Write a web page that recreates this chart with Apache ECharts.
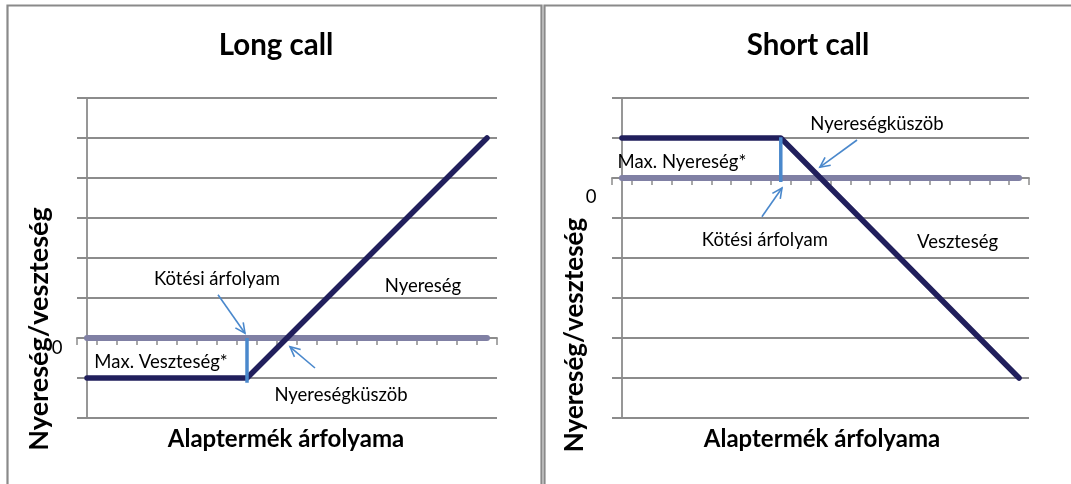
<!DOCTYPE html>
<html>
<head>
<meta charset="utf-8">
<title>Long call / Short call</title>
<script src="https://cdn.jsdelivr.net/npm/echarts@6/dist/echarts.min.js"></script>
<style>
  html, body { margin: 0; padding: 0; background: #fff; }
  #chart { width: 1071px; height: 484px; }
</style>
</head>
<body>
<div id="chart"></div>
<script>
// price steps of the underlying (no labels on the axis)
const priceSteps = ['1', '2', '3', '4', '5', '6', '7', '8', '9', '10', '11',
  '12', '13', '14', '15', '16', '17', '18', '19', '20', '21'];
const longCall = [-1, -1, -1, -1, -1, -1, -1, -1, -1, -0.5, 0, 0.5, 1, 1.5, 2, 2.5, 3, 3.5, 4, 4.5, 5];
const shortCall = [1, 1, 1, 1, 1, 1, 1, 1, 1, 0.5, 0, -0.5, -1, -1.5, -2, -2.5, -3, -3.5, -4, -4.5, -5];
const zeroLine = [0, 0, 0, 0, 0, 0, 0, 0, 0, 0, 0, 0, 0, 0, 0, 0, 0, 0, 0, 0, 0];
const strikeIndex = 8;
const longStrike = [0, -1.12];
const shortStrike = [1.02, -0.1];
const longRange = [-2, 6];
const shortRange = [-6, 2];
const titles = ['Long call', 'Short call'];
const xName = 'Alaptermék árfolyama';
const yName = 'Nyereség/veszteség';
const longNotes = ['Kötési árfolyam', 'Nyereség', 'Max. Veszteség*', '0', 'Nyereségküszöb'];
const shortNotes = ['Nyereségküszöb', 'Max. Nyereség*', '0', 'Kötési árfolyam', 'Veszteség'];

// where the notes and arrows sit, in (price step, profit) units
const longNotePos = [[6.5, 1.48], [16.8, 1.3], [3.7, -0.6], [-1.5, -0.25], [12.7, -1.42]];
const longArrows = [[6.55, 1.08, 7.9, 0.12], [11.4, -0.75, 10.15, -0.22]];
const shortNotePos = [[12.84, 1.35], [3.02, 0.4], [-1.55, -0.47], [7.2, -1.55], [16.9, -1.6]];
const shortArrows = [[11.84, 0.95, 9.97, 0.27], [7.05, -0.97, 8.06, -0.25]];

const GRID_COLOR = '#8c8c8c';
const ZERO_COLOR = '#8080a4';
const PAYOFF_COLOR = '#211f5c';
const STRIKE_COLOR = '#4a88cc';
const FONT = 'Lato';

const chart = echarts.init(document.getElementById('chart'));

function textRenderer(labels) {
  return function (params, api) {
    const p = api.coord([api.value(0), api.value(1)]);
    return {
      type: 'text',
      x: p[0],
      y: p[1],
      style: {
        text: labels[params.dataIndex],
        fill: '#000',
        font: '18.5px ' + FONT,
        align: 'center',
        verticalAlign: 'middle'
      }
    };
  };
}

function arrowRenderer(params, api) {
  const a = api.coord([api.value(0), api.value(1)]);
  const b = api.coord([api.value(2), api.value(3)]);
  const ang = Math.atan2(b[1] - a[1], b[0] - a[0]);
  const h = 11, spread = 0.45;
  const p1 = [b[0] - h * Math.cos(ang - spread), b[1] - h * Math.sin(ang - spread)];
  const p2 = [b[0] - h * Math.cos(ang + spread), b[1] - h * Math.sin(ang + spread)];
  const style = { stroke: STRIKE_COLOR, lineWidth: 1.6, fill: null };
  return {
    type: 'group',
    children: [
      { type: 'line', shape: { x1: a[0], y1: a[1], x2: b[0], y2: b[1] }, style: style },
      { type: 'polyline', shape: { points: [p1, b, p2] }, style: style }
    ]
  };
}

function yAxisFor(gi, range) {
  return {
    type: 'value',
    gridIndex: gi,
    min: range[0],
    max: range[1],
    interval: 1,
    axisLine: { show: true, lineStyle: { color: GRID_COLOR, width: 1.8 } },
    axisTick: { show: true, length: 9, lineStyle: { color: GRID_COLOR, width: 1.8 } },
    axisLabel: { show: false },
    splitLine: { show: true, lineStyle: { color: GRID_COLOR, width: 1.8 } }
  };
}

function categoryAxisFor(gi) {
  return {
    type: 'category',
    gridIndex: gi,
    data: priceSteps,
    boundaryGap: true,
    axisLine: { show: true, onZero: true, lineStyle: { color: GRID_COLOR, width: 1.8 } },
    axisTick: { show: true, interval: 0, length: 7, lineStyle: { color: GRID_COLOR, width: 1.5 } },
    axisLabel: { show: false },
    splitLine: { show: false }
  };
}

function overlayAxisFor(gi) {
  return { type: 'value', gridIndex: gi, min: -0.5, max: 20.5, show: false };
}

function seriesFor(gi, payoff, strike, notes, notePos, arrows) {
  const cat = gi * 2, ov = gi * 2 + 1;
  return [
    {
      type: 'line', xAxisIndex: cat, yAxisIndex: gi, data: zeroLine,
      symbol: 'none', silent: true,
      lineStyle: { color: ZERO_COLOR, width: 6, cap: 'round' }
    },
    {
      type: 'line', xAxisIndex: cat, yAxisIndex: gi, data: payoff,
      symbol: 'none', silent: true,
      lineStyle: { color: PAYOFF_COLOR, width: 5.5, cap: 'round', join: 'round' }
    },
    {
      type: 'line', xAxisIndex: cat, yAxisIndex: gi,
      data: strike.map(v => [strikeIndex, v]),
      symbol: 'none', silent: true,
      lineStyle: { color: STRIKE_COLOR, width: 3.5 }
    },
    {
      type: 'custom', xAxisIndex: ov, yAxisIndex: gi, data: arrows,
      encode: { x: [0, 2], y: [1, 3] }, clip: false, silent: true,
      renderItem: arrowRenderer
    },
    {
      type: 'custom', xAxisIndex: ov, yAxisIndex: gi, data: notePos,
      encode: { x: 0, y: 1 }, clip: false, silent: true,
      renderItem: textRenderer(notes)
    }
  ];
}

const option = {
  animation: false,
  backgroundColor: '#fff',
  title: [
    { text: titles[0], left: 276, top: 30, textAlign: 'center', padding: 0,
      textStyle: { fontFamily: FONT, fontSize: 29.5, fontWeight: 'bold', color: '#000' } },
    { text: titles[1], left: 808, top: 30, textAlign: 'center', padding: 0,
      textStyle: { fontFamily: FONT, fontSize: 29.5, fontWeight: 'bold', color: '#000' } }
  ],
  grid: [
    { left: 77, top: 98, width: 420, height: 320, outerBoundsMode: 'none' },
    { left: 612, top: 98, width: 417, height: 320, outerBoundsMode: 'none' }
  ],
  xAxis: [categoryAxisFor(0), overlayAxisFor(0), categoryAxisFor(1), overlayAxisFor(1)],
  yAxis: [yAxisFor(0, longRange), yAxisFor(1, shortRange)],
  series: [].concat(
    seriesFor(0, longCall, longStrike, longNotes, longNotePos, longArrows),
    seriesFor(1, shortCall, shortStrike, shortNotes, shortNotePos, shortArrows)
  ),
  graphic: [
    { type: 'rect', silent: true, shape: { x: 7.5, y: 5.5, width: 534, height: 490 },
      style: { fill: null, stroke: '#8a8a8a', lineWidth: 2.2 } },
    { type: 'rect', silent: true, shape: { x: 544.5, y: 5.5, width: 540, height: 490 },
      style: { fill: null, stroke: '#8a8a8a', lineWidth: 2.2 } },
    { type: 'text', silent: true, x: 286, y: 439,
      style: { text: xName, font: 'bold 24px ' + FONT, fill: '#000', align: 'center', verticalAlign: 'middle' } },
    { type: 'text', silent: true, x: 822, y: 439,
      style: { text: xName, font: 'bold 24px ' + FONT, fill: '#000', align: 'center', verticalAlign: 'middle' } },
    { type: 'text', silent: true, x: 39, y: 329, rotation: Math.PI / 2,
      style: { text: yName, font: 'bold 27px ' + FONT, fill: '#000', align: 'center', verticalAlign: 'middle' } },
    { type: 'text', silent: true, x: 575, y: 335, rotation: Math.PI / 2,
      style: { text: yName, font: 'bold 26px ' + FONT, fill: '#000', align: 'center', verticalAlign: 'middle' } }
  ]
};

chart.setOption(option);
</script>
</body>
</html>
